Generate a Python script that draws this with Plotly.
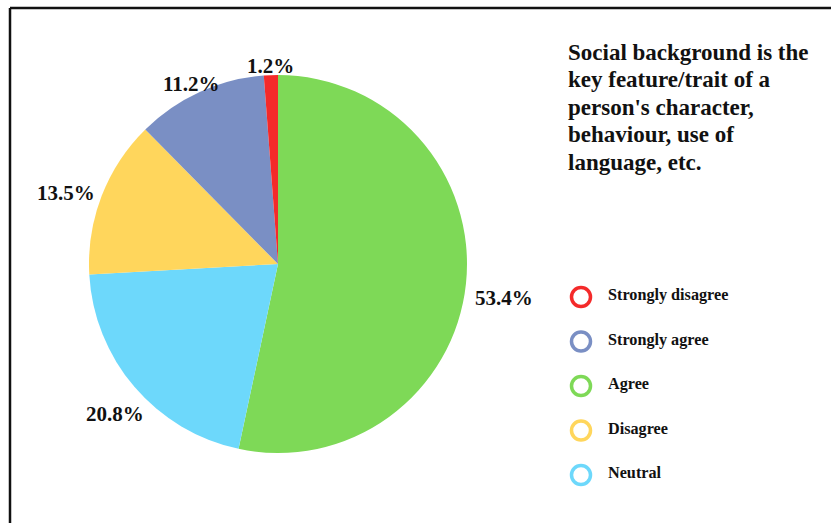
import math
import plotly.graph_objects as go

# Responses, listed clockwise from 12 o'clock
slice_labels = ["Agree", "Neutral", "Disagree", "Strongly agree", "Strongly disagree"]
slice_values = [53.4, 20.8, 13.5, 11.2, 1.2]
slice_colors = ["#7ED957", "#6DD8FB", "#FFD65C", "#7A8FC4", "#F42A2A"]

# Legend entries in display order
legend_labels = ["Strongly disagree", "Strongly agree", "Agree", "Disagree", "Neutral"]
legend_colors = ["#F42A2A", "#7A8FC4", "#7ED957", "#FFD65C", "#6DD8FB"]

title_lines = [
    "Social background is the",
    "key feature/trait of a",
    "person's character,",
    "behaviour, use of",
    "language, etc.",
]

W, H = 831, 523
serif = "Liberation Serif"
ink = "#111111"

fig = go.Figure()

# Pie placed in pixel terms: centre and radius
cx, cy, r = 278, 264, 189
fig.add_trace(go.Pie(
    labels=slice_labels,
    values=slice_values,
    marker=dict(colors=slice_colors, line=dict(width=0)),
    sort=False,
    direction="clockwise",
    rotation=0,
    textinfo="none",
    showlegend=False,
    hoverinfo="label+value",
    domain=dict(x=[(cx - r) / W, (cx + r) / W],
                y=[(H - cy - r) / H, (H - cy + r) / H]),
))

# Percentage labels set just outside each slice, at the slice's mid-angle
pct_size = 21
total = sum(slice_values)
cum = 0.0
for v in slice_values:
    mid = (cum + v / 2) / total * 2 * math.pi
    cum += v
    sx, sy = math.sin(mid), -math.cos(mid)
    txt = f"{v:.1f}%"
    half_w = 0.5 * pct_size * (0.5 * sum(c.isdigit() for c in txt) + 0.25 + 1.0)
    half_h = pct_size / 2
    ext = min(half_w / max(abs(sx), 1e-6), half_h / max(abs(sy), 1e-6))
    R = r + 9 + ext
    fig.add_annotation(x=cx + R * sx, y=cy + R * sy + half_h, xref="x", yref="y",
                       text=f"<b>{txt}</b>", showarrow=False,
                       xanchor="center", yanchor="middle",
                       font=dict(family=serif, size=pct_size, color=ink))

# Hand-built legend with ring markers
leg_x, leg_y0, leg_dy = 581, 297, 44.5
leg_y = [leg_y0 + i * leg_dy for i in range(len(legend_labels))]
fig.add_trace(go.Scatter(
    x=[leg_x] * len(legend_labels),
    y=leg_y,
    mode="markers",
    marker=dict(symbol="circle-open", size=19,
                line=dict(width=3.5, color=legend_colors), color=legend_colors),
    showlegend=False,
    hoverinfo="skip",
    xaxis="x", yaxis="y",
))
for lbl, y in zip(legend_labels, leg_y):
    fig.add_annotation(x=leg_x + 25, y=y - 2, xref="x", yref="y", text=f"<b>{lbl}</b>",
                       showarrow=False, xanchor="left", yanchor="middle",
                       font=dict(family=serif, size=16.2, color=ink))

# Heading block
for i, line in enumerate(title_lines):
    fig.add_annotation(x=566, y=52 + i * 27.5, xref="x", yref="y", text=f"<b>{line}</b>",
                       showarrow=False, xanchor="left", yanchor="middle",
                       font=dict(family=serif, size=23, color=ink))

# Frame lines along the top and left
fig.add_shape(type="line", x0=10, x1=W, y0=8, y1=8, xref="x", yref="y",
              line=dict(color=ink, width=2.5))
fig.add_shape(type="line", x0=10, x1=10, y0=8, y1=H, xref="x", yref="y",
              line=dict(color=ink, width=2.5))

fig.update_layout(
    width=W, height=H,
    margin=dict(l=0, r=0, t=0, b=0),
    paper_bgcolor="white", plot_bgcolor="rgba(0,0,0,0)",
    xaxis=dict(range=[0, W], visible=False, fixedrange=True),
    yaxis=dict(range=[H, 0], visible=False, fixedrange=True),
)

fig.write_html("out.html")
